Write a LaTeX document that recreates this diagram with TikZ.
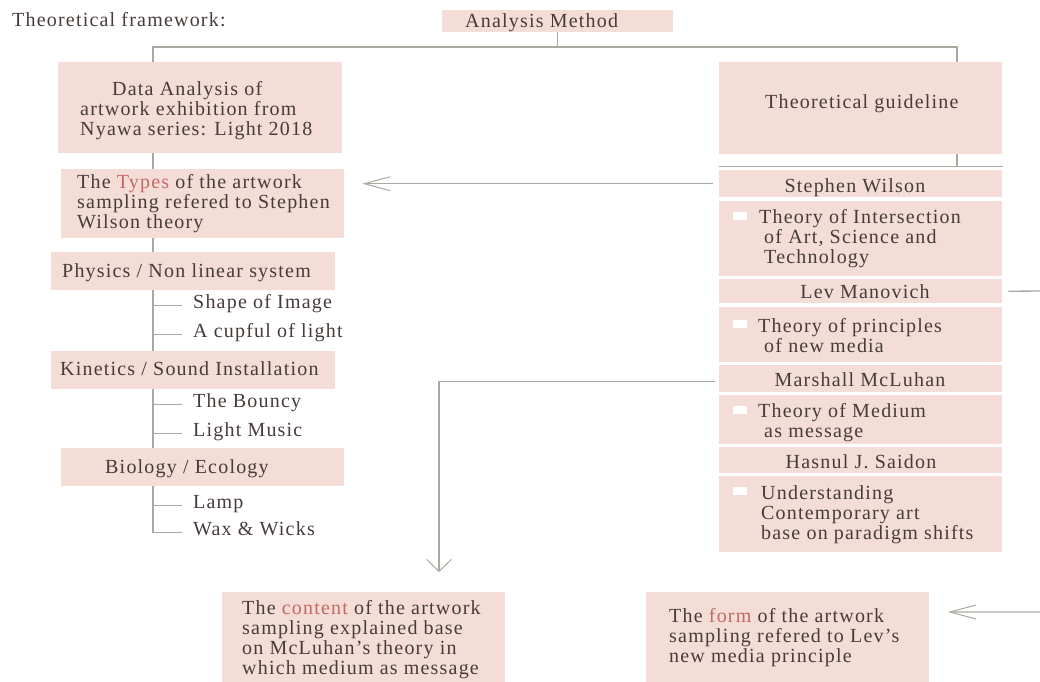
\documentclass[tikz,border=0pt]{standalone}
\usepackage{fontspec}
\setmainfont{Liberation Serif}[LetterSpace=6]
\usetikzlibrary{arrows.meta}
\definecolor{boxc}{RGB}{243,221,214}
\definecolor{txtc}{RGB}{72,60,58}
\definecolor{redc}{RGB}{196,104,100}
\definecolor{linec}{RGB}{168,170,160}
\begin{document}
\begin{tikzpicture}[x=1pt,y=-1pt,
  box/.style={fill=boxc, draw=none, inner sep=0, anchor=north west},
  txt/.style={inner sep=0, anchor=base west, text=txtc, font=\fontsize{20}{20.3}\selectfont},
  ctxt/.style={txt, anchor=base},
  bul/.style={fill=white, draw=none, inner sep=0, minimum width=14, minimum height=8},
  conn/.style={draw=linec, line width=1.3pt},
  harr/.style={conn, -{Straight Barb[length=26pt,width=14pt,line width=1pt]}},
  varr/.style={conn, -{Straight Barb[length=12pt,width=25pt,line width=1pt]}}]
\useasboundingbox (0,0) rectangle (1040,681);
\fill[white] (0,0) rectangle (1040,681);
\coordinate (tx) at (153,0);
\coordinate (rx) at (957,0);

% heading
\node[txt] (hd) at (12,26) {Theoretical framework:};

% top box
\node[box, minimum width=231, minimum height=22] (am) at (442,10) {};
\node[txt] (amt) at (465,27) {Analysis Method};

% left column (multi-line texts are placed by the baseline of their last line)
\node[box, minimum width=284, minimum height=91] (da) at (58,62) {};
\node[txt, align=left] (dat) at (80,135.6) {\hspace*{32pt}Data Analysis of\\artwork exhibition from\\Nyawa series: Light 2018};

\node[box, minimum width=283, minimum height=69] (ty) at (61,169) {};
\node[txt, align=left] (tyt) at (77,228.6) {The \textcolor{redc}{Types} of the artwork\\sampling refered to Stephen\\Wilson theory};

\node[box, minimum width=284, minimum height=38] (ph) at (51,252) {};
\node[txt] (pht) at (62,277) {Physics / Non linear system};
\node[txt] (i1) at (193,308) {Shape of Image};
\node[txt] (i2) at (193,337) {A cupful of light};

\node[box, minimum width=284, minimum height=38] (ki) at (51,351) {};
\node[txt] (kit) at (60,375) {Kinetics / Sound Installation};
\node[txt] (i3) at (193,407) {The Bouncy};
\node[txt] (i4) at (193,436) {Light Music};

\node[box, minimum width=283, minimum height=38] (bi) at (61,448) {};
\node[txt] (bit) at (105,473) {Biology / Ecology};
\node[txt] (i5) at (193,508) {Lamp};
\node[txt] (i6) at (193,535) {Wax \& Wicks};

% right column
\node[box, minimum width=283, minimum height=92] (tg) at (719,62) {};
\node[txt] (tgt) at (765,108) {Theoretical guideline};

\node[box, minimum width=283, minimum height=27] (sw) at (719,170) {};
\node[ctxt] (swt) at (855,192) {Stephen Wilson};
\node[box, minimum width=283, minimum height=75] (t1) at (719,201) {};
\node[bul] (b1) at (740,216) {};
\node[txt, align=left] (t1t) at (759,263.6) {Theory of Intersection\\\hspace*{5pt}of Art, Science and\\\hspace*{5pt}Technology};

\node[box, minimum width=283, minimum height=24] (lm) at (719,279) {};
\node[ctxt] (lmt) at (865,298) {Lev Manovich};
\node[box, minimum width=283, minimum height=55] (t2) at (719,307) {};
\node[bul] (b2) at (740,324) {};
\node[txt, align=left] (t2t) at (758,352.3) {Theory of principles\\\hspace*{6pt}of new media};

\node[box, minimum width=283, minimum height=27] (mm) at (719,365) {};
\node[ctxt] (mmt) at (860,386) {Marshall McLuhan};
\node[box, minimum width=283, minimum height=49] (t3) at (719,395) {};
\node[bul] (b3) at (740,410) {};
\node[txt, align=left] (t3t) at (758,437.3) {Theory of Medium\\\hspace*{6pt}as message};

\node[box, minimum width=283, minimum height=26] (hs) at (719,447) {};
\node[ctxt] (hst) at (861,468) {Hasnul J. Saidon};
\node[box, minimum width=283, minimum height=76] (t4) at (719,476) {};
\node[bul] (b4) at (740,491) {};
\node[txt, align=left] (t4t) at (761,539.6) {Understanding\\Contemporary art\\base on paradigm shifts};

% bottom boxes
\node[box, minimum width=283, minimum height=100] (ct) at (222,592) {};
\node[txt, align=left] (ctt) at (242,674.9) {The \textcolor{redc}{content} of the artwork\\sampling explained base\\on McLuhan's theory in\\which medium as message};
\node[box, minimum width=283, minimum height=100] (fm) at (646,592) {};
\node[txt, align=left] (fmt) at (669,662.6) {The \textcolor{redc}{form} of the artwork\\sampling refered to Lev's\\new media principle};

% connectors: top
\draw[conn] (am.south) -- (am.south |- 0,47);
\draw[conn] (da.north -| tx) |- (rx |- 0,47) -- (tg.north -| rx);
\coordinate (sepL) at (719,166);
\coordinate (sepR) at (1003,166);
\draw[conn, line width=0.9pt] (sepL) -- (sepR);
\draw[conn] (tg.south -| rx) -- (rx |- sepL);

% left trunk
\draw[conn] (da.south -| tx) -- (ty.north -| tx);
\draw[conn] (ty.south -| tx) -- (ph.north -| tx);
\draw[conn] (ph.south -| tx) -- (ki.north -| tx);
\draw[conn] (ki.south -| tx) -- (bi.north -| tx);
\draw[conn] (bi.south -| tx) -- (tx |- i6.mid west) -- ([xshift=-11pt]i6.mid west);
\foreach \n in {i1,i2,i3,i4,i5}
  \draw[conn] (tx |- \n.mid west) -- ([xshift=-11pt]\n.mid west);

% arrows
\draw[harr] ([xshift=-6pt]sw.west) -- ([xshift=18pt]sw.west -| ty.east);
\coordinate (tipc) at (439,572);
\draw[varr] ([xshift=-4pt,yshift=-2.5pt]mm.west) -| (tipc);
\coordinate (fr1) at (1048,291);
\coordinate (fr2) at (1048,612);
\coordinate (tipf) at (948,612);
\draw[harr] ([xshift=6pt]lm.east) -- (fr1) -- (fr2) -- (tipf);
\end{tikzpicture}
\end{document}
